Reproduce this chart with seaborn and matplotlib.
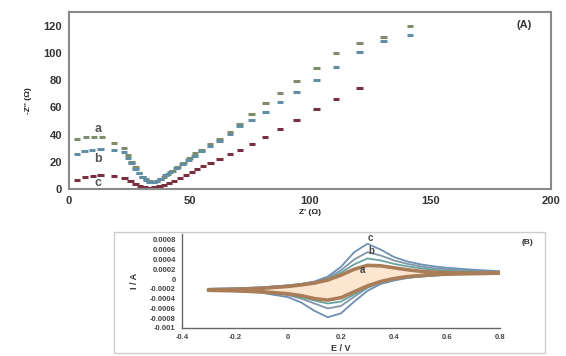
import numpy as np
import pandas as pd
import matplotlib
matplotlib.use("Agg")
import matplotlib.pyplot as plt
import seaborn as sns
from matplotlib.patches import Rectangle

# ---------------- Panel A data (Nyquist) ----------------
a_zre = [3.3, 7, 10.4, 13.7, 18.7, 22.8, 24.5, 26, 27.5, 29, 30.5, 32, 33.5, 35, 36.5, 38, 39.5, 41,
         43, 45, 47.5, 50, 52.3, 55, 58.5, 62.4, 66.8, 70.7, 75.8, 81.6, 87.6, 94.5, 102.6, 110.7,
         120.5, 130.5, 141.5]
a_zim = [37, 38, 38, 38, 34, 30, 25, 20, 16, 12, 9, 7, 6, 5.5, 6, 7.5, 9, 11,
         13.5, 16, 19, 22.5, 26.6, 29, 32.7, 36.4, 42, 48, 55, 62.8, 70.5, 79, 88.8, 100,
         107, 111.7, 119.4]

b_zre = [3.3, 6.5, 9.5, 13, 18.7, 22.8, 24.5, 26, 27.5, 29, 30.5, 32, 33.5, 35, 36.5, 38, 40, 42,
         44.5, 47, 49.5, 52, 55, 58.5, 62.4, 66.8, 70.7, 75.8, 81.6, 87.6, 94.5, 102.6, 110.7,
         120.5, 130.5, 141.5]
b_zim = [26, 28, 29, 29.5, 28.5, 27, 23, 19, 15, 11.5, 8.5, 6.5, 5.5, 5, 6, 7.5, 10, 12.5,
         15.5, 18.5, 21.5, 24.5, 28, 31.5, 35.5, 40.5, 46, 51, 56.6, 63.7, 71, 80, 89.6,
         100.5, 109, 112.8]

c_zre = [3.3, 6.6, 10, 13, 18.7, 23, 25.5, 27.5, 29.5, 31.5, 33.5, 35.5, 37.5, 39.5, 41.5, 43.5,
         46, 48.5, 51, 53.2, 55.6, 58.8, 62.4, 66.8, 71, 76, 81.3, 87.6, 94.5, 102.6, 110.7, 120.5]
c_zim = [6.6, 8.8, 9.5, 10, 9.5, 8, 6, 4, 2.5, 1.5, 1, 1.2, 2, 3, 4.5, 6,
         8, 10, 12.5, 14.4, 16.8, 19.3, 21.7, 25.4, 29, 33, 38.3, 44, 51, 58.6, 66, 74]

nyq_series = ["a", "b", "c"]
nyq_colors = ["#7f8c6a", "#5f8ea6", "#7a3040"]

# ---------------- Panel B data (CV) ----------------
cv_E_fwd = [-0.3, -0.2, -0.1, 0.0, 0.05, 0.1, 0.15, 0.2, 0.25, 0.3, 0.35, 0.4, 0.45, 0.5, 0.55,
            0.6, 0.7, 0.8]
cv_E_rev = [0.7, 0.6, 0.55, 0.5, 0.45, 0.4, 0.35, 0.3, 0.25, 0.2, 0.15, 0.1, 0.05, 0.0, -0.1,
            -0.2, -0.3]
cv_c_fwd = [-0.00020, -0.00019, -0.00017, -0.00013, -0.00010, -0.00005, 0.00005, 0.00025, 0.00055,
            0.00072, 0.00060, 0.00045, 0.00036, 0.00030, 0.00026, 0.00023, 0.00019, 0.00016]
cv_c_rev = [0.00012, 0.00009, 0.00007, 0.00005, 0.00002, -0.00003, -0.00010, -0.00024, -0.00046,
            -0.00070, -0.00078, -0.00065, -0.00048, -0.00037, -0.00028, -0.00025, -0.00024]
cv_b_fwd = [-0.00020, -0.00019, -0.00017, -0.00013, -0.00010, -0.00006, 0.00002, 0.00018, 0.00040,
            0.00055, 0.00048, 0.00038, 0.00031, 0.00026, 0.00022, 0.00020, 0.00017, 0.00015]
cv_b_rev = [0.00012, 0.00009, 0.00007, 0.00005, 0.00003, -0.00001, -0.00007, -0.00018, -0.00036,
            -0.00055, -0.00060, -0.00050, -0.00040, -0.00033, -0.00027, -0.00024, -0.00023]
cv_m_fwd = [-0.00021, -0.00020, -0.00018, -0.00014, -0.00011, -0.00007, 0.00000, 0.00013, 0.00030,
            0.00042, 0.00038, 0.00031, 0.00026, 0.00022, 0.00019, 0.00017, 0.00015, 0.00014]
cv_m_rev = [0.00012, 0.00010, 0.00008, 0.00006, 0.00004, 0.00000, -0.00006, -0.00016, -0.00031,
            -0.00046, -0.00050, -0.00044, -0.00037, -0.00031, -0.00026, -0.00024, -0.00023]
cv_a_fwd = [-0.00022, -0.00021, -0.00019, -0.00015, -0.00012, -0.00008, -0.00002, 0.00008, 0.00020,
            0.00028, 0.00027, 0.00023, 0.00019, 0.00016, 0.00014, 0.00013, 0.00012, 0.00012]
cv_a_rev = [0.00011, 0.00010, 0.00009, 0.00007, 0.00005, 0.00001, -0.00005, -0.00014, -0.00026,
            -0.00038, -0.00043, -0.00040, -0.00034, -0.00030, -0.00026, -0.00024, -0.00023]

cv_xticks = [-0.4, -0.2, 0, 0.2, 0.4, 0.6, 0.8]
cv_yticks = [0.0008, 0.0006, 0.0004, 0.0002, 0, -0.0002, -0.0004, -0.0006, -0.0008, -0.001]
cv_ytick_labels = ["0.0008", "0.0006", "0.0004", "0.0002", "0", "-0.0002", "-0.0004",
                   "-0.0006", "-0.0008", "-0.001"]

# ---------------- Figure ----------------
sns.set_theme(style="white")
plt.rcParams['font.family'] = ['Liberation Sans', 'DejaVu Sans']

W, H = 566, 356
fig = plt.figure(figsize=(W / 100, H / 100), dpi=100)

def rect(l, t, r, b):
    return [l / W, 1 - b / H, (r - l) / W, (b - t) / H]

# Panel A
axA = fig.add_axes(rect(69, 12, 551, 189))
dfA = pd.concat([
    pd.DataFrame({"zre": a_zre, "zim": a_zim, "s": "a"}),
    pd.DataFrame({"zre": b_zre, "zim": b_zim, "s": "b"}),
    pd.DataFrame({"zre": c_zre, "zim": c_zim, "s": "c"}),
])
sns.scatterplot(data=dfA, x="zre", y="zim", hue="s", hue_order=nyq_series,
                palette=nyq_colors, marker="_", s=22, linewidth=2.2, legend=False, ax=axA)
axA.set_xlim(0, 200)
axA.set_ylim(0, 130)
axA.set_xticks([0, 50, 100, 150, 200])
axA.set_yticks([0, 20, 40, 60, 80, 100, 120])
for sp in axA.spines.values():
    sp.set_color("#8a8a8a")
    sp.set_linewidth(1.5)
axA.tick_params(direction="out", length=3, width=1, color="#8a8a8a", labelsize=8,
                labelcolor="#333333", pad=2)
for lab in axA.get_xticklabels() + axA.get_yticklabels():
    lab.set_fontweight("bold")
axA.set_xlabel("Z' (Ω)", fontsize=6, fontweight="bold", labelpad=2, color="#222222")
axA.set_ylabel("-Z'' (Ω)", fontsize=6, fontweight="bold", labelpad=8, color="#222222")
axA.text(0.945, 0.925, "(A)", transform=axA.transAxes, fontsize=8, fontweight="bold",
         ha="center", va="center", color="#333333")
axA.text(12, 44, "a", fontsize=9, fontweight="bold", color="#555555", ha="center", va="center")
axA.text(12, 22, "b", fontsize=9, fontweight="bold", color="#555555", ha="center", va="center")
axA.text(12, 4.5, "c", fontsize=9, fontweight="bold", color="#555555", ha="center", va="center")

# Panel B outer frame
fig.patches.append(Rectangle((114 / W, 1 - 353 / H), (545 - 114) / W, (353 - 232) / H,
                             transform=fig.transFigure, fill=False, edgecolor="#cccccc",
                             linewidth=1.0))

axB = fig.add_axes(rect(182, 234, 500, 328))
cv_E = cv_E_fwd + cv_E_rev
curves = [
    (cv_c_fwd + cv_c_rev, "#6d8fb3", 1.3),
    (cv_b_fwd + cv_b_rev, "#7e96a8", 1.3),
    (cv_m_fwd + cv_m_rev, "#66a3a0", 1.3),
    (cv_a_fwd + cv_a_rev, "#a87d58", 2.6),
]
axB.fill(cv_E, cv_a_fwd + cv_a_rev, color="#fde6cf", zorder=1, linewidth=0)
for yv, col, lw in curves:
    sns.lineplot(x=cv_E, y=yv, sort=False, estimator=None, color=col, linewidth=lw, ax=axB)

axB.set_xlim(-0.4, 0.8)
axB.set_ylim(-0.001, 0.00092)
axB.set_xticks(cv_xticks)
axB.set_xticklabels([f"{v:g}" for v in cv_xticks])
axB.set_yticks(cv_yticks)
axB.set_yticklabels(cv_ytick_labels)
axB.spines["top"].set_visible(False)
axB.spines["right"].set_visible(False)
for s in ["left", "bottom"]:
    axB.spines[s].set_color("#666666")
    axB.spines[s].set_linewidth(1.0)
axB.tick_params(direction="out", length=2.5, width=0.8, color="#666666", labelsize=5.5,
                labelcolor="#444444", pad=2)
for lab in axB.get_xticklabels() + axB.get_yticklabels():
    lab.set_fontweight("bold")
axB.set_xlabel("E / V", fontsize=6.5, fontweight="bold", labelpad=2, color="#333333")
axB.set_ylabel("I / A", fontsize=6.5, fontweight="bold", labelpad=8, color="#333333")
axB.text(0.31, 0.00083, "c", fontsize=7, fontweight="bold", color="#444444", ha="center", va="center")
axB.text(0.315, 0.00058, "b", fontsize=7, fontweight="bold", color="#444444", ha="center", va="center")
axB.text(0.28, 0.00018, "a", fontsize=7, fontweight="bold", color="#444444", ha="center", va="center")
fig.text(527 / W, 1 - 242 / H, "(B)", fontsize=6, fontweight="bold", color="#333333",
         ha="center", va="center")

fig.savefig("out.png", dpi=100)
